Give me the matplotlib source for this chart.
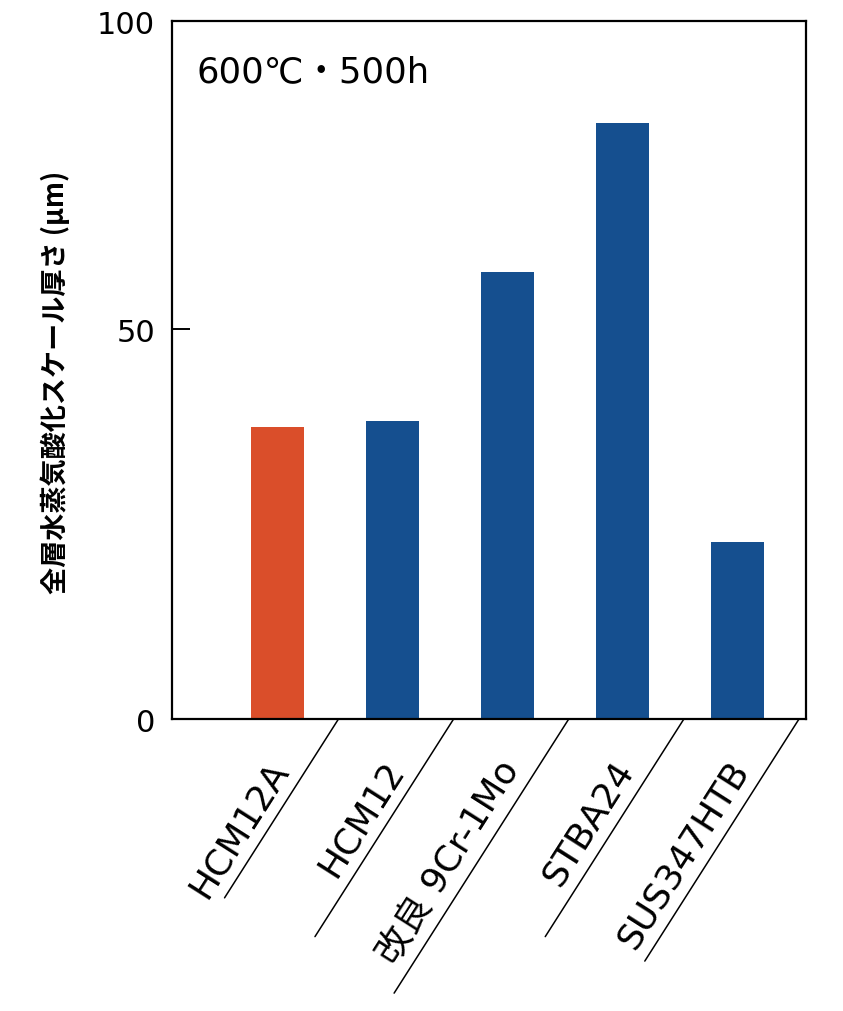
import numpy as np
import matplotlib
matplotlib.use('Agg')
import matplotlib.pyplot as plt

# data
materials = ['HCM12A', 'HCM12', '改良 9Cr-1Mo', 'STBA24', 'SUS347HTB']
scale_thickness = [37.4, 38.2, 59.3, 83.4, 22.7]   # µm
bar_colors = ['#DA4E2A', '#154F8F', '#154F8F', '#154F8F', '#154F8F']
y_ticks = [0, 50, 100]
condition = '600℃・500h'
y_label = '全層水蒸気酸化スケール厚さ (μm)'

plt.rcParams['font.family'] = ['DejaVu Sans', 'Noto Sans CJK JP']


# the original axis is drawn unevenly: 0-50 takes more room than 50-100
def fwd(y):
    y = np.asarray(y, dtype=float)
    return np.where(y <= 50, y * 7.8, 390 + (y - 50) * 6.16)


def inv(v):
    v = np.asarray(v, dtype=float)
    return np.where(v <= 390, v / 7.8, 50 + (v - 390) / 6.16)


fig = plt.figure(figsize=(8.43, 10.12), dpi=100)
ax = fig.add_axes([0.204, 0.2885, 0.752, 0.6897])

x = np.arange(len(materials))
ax.bar(x, scale_thickness, width=0.46, color=bar_colors)

ax.set_yscale('function', functions=(fwd, inv))
ax.set_ylim(0, 100)
ax.set_xlim(-0.916, 4.59)
ax.set_yticks(y_ticks)
ax.set_yticklabels([str(t) for t in y_ticks])
ax.set_xticks([])
ax.tick_params(axis='y', direction='in', length=13, width=1.4, pad=12,
               labelsize=22)
for s in ax.spines.values():
    s.set_linewidth(1.6)

ax.text(0.039, 0.914, condition, transform=ax.transAxes, fontsize=25.5,
        ha='left', va='baseline')

fig.text(55 / 843, 1 - 382 / 1012, y_label, rotation=90, ha='center',
         va='center', fontsize=19.5, fontweight='bold',
         family=['Noto Sans CJK JP', 'DejaVu Sans'])

# slanted category labels with a guide line under each
theta = np.deg2rad(57.5)
line_len = [212, 258, 325, 258, 287]
d_along = 68
perp = 15
for i, name in enumerate(materials):
    x0 = i + 0.53
    L = line_len[i]
    ax.annotate('', xy=(x0, 0), xytext=(-L * np.cos(theta), -L * np.sin(theta)),
                textcoords='offset pixels', annotation_clip=False,
                arrowprops=dict(arrowstyle='-', lw=1.1, color='black',
                                shrinkA=0, shrinkB=0))
    ox = -d_along * np.cos(theta) - perp * np.sin(theta)
    oy = -d_along * np.sin(theta) + perp * np.cos(theta)
    ax.annotate(name, xy=(x0, 0), xytext=(ox, oy), textcoords='offset pixels',
                rotation=57.5, rotation_mode='anchor', ha='right',
                va='baseline', fontsize=26, annotation_clip=False)

fig.savefig('out.png', dpi=100)
